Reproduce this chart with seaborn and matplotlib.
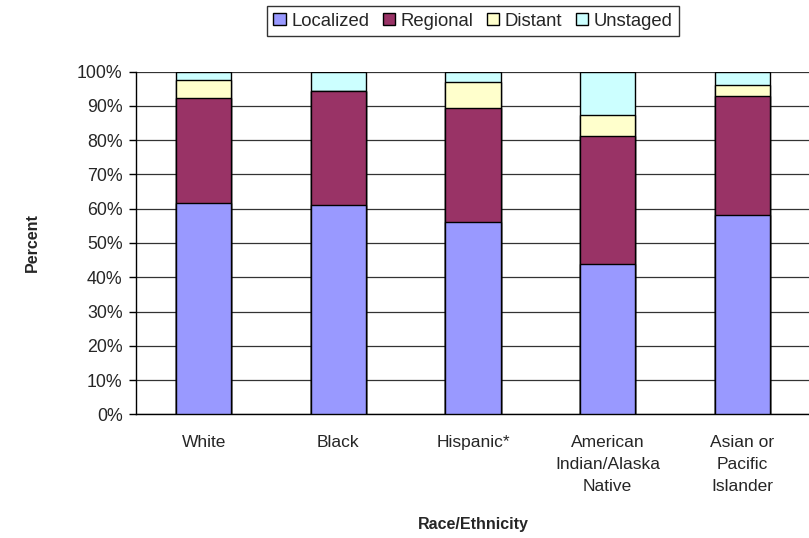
import numpy as np
import pandas as pd
import matplotlib
matplotlib.use("Agg")
import matplotlib.pyplot as plt
from matplotlib.patches import Patch
import seaborn as sns

# valores (percentual por estágio)
categorias = ["White", "Black", "Hispanic*", "American\nIndian/Alaska\nNative", "Asian or\nPacific\nIslander"]
localized = [61.7, 61.2, 56.0, 43.9, 58.3]
regional = [30.5, 33.2, 33.4, 37.3, 34.6]
distant = [5.4, 0.0, 7.5, 6.0, 3.1]
unstaged = [2.4, 5.6, 3.1, 12.8, 4.0]

estagios = ["Localized", "Regional", "Distant", "Unstaged"]
cores = ["#9999FF", "#993366", "#FFFFCC", "#CCFFFF"]

sns.set_style("white")
plt.rcParams['font.family'] = ['Liberation Sans', 'DejaVu Sans']

dados = pd.DataFrame({"categoria": categorias, "Localized": localized,
                      "Regional": regional, "Distant": distant, "Unstaged": unstaged})
acumulado = dados[estagios].cumsum(axis=1)

fig = plt.figure(figsize=(8.09, 5.38), dpi=100)
ax = fig.add_axes([0.1687, 0.2296, 0.832, 0.6375])

# desenha do maior acumulado para o menor, para empilhar
for estagio, cor in reversed(list(zip(estagios, cores))):
    sns.barplot(x=dados["categoria"], y=acumulado[estagio], color=cor, width=0.41,
                edgecolor="black", linewidth=1.0, saturation=1, ax=ax, zorder=3)

ax.set_ylim(0, 100)
ax.set_xlim(-0.5, len(categorias) - 0.5)
ax.set_yticks(np.arange(0, 101, 10))
ax.set_yticklabels([f"{v}%" for v in range(0, 101, 10)], fontsize=12.8)
ax.yaxis.grid(True, color="#333333", linewidth=0.9, zorder=0)
ax.set_axisbelow(True)

ax.set_xticks(range(len(categorias)))
ax.set_xticklabels(categorias, fontsize=12.5, linespacing=1.55)
ax.set_xticks(np.arange(-0.5, len(categorias), 1), minor=True)
ax.tick_params(axis="x", which="major", length=0, pad=15)
ax.tick_params(axis="x", which="minor", length=5, width=1, color="black", direction="out")
ax.tick_params(axis="y", length=5, width=1, color="black", direction="out", left=True, pad=5)

for lado in ["top", "right"]:
    ax.spines[lado].set_visible(False)
for lado in ["left", "bottom"]:
    ax.spines[lado].set_color("black")
    ax.spines[lado].set_linewidth(1.0)

ax.set_xlabel("Race/Ethnicity", fontsize=11.5, weight="bold", labelpad=17)
ax.set_ylabel("Percent", fontsize=11.5, weight="bold", labelpad=27)

alcas = [Patch(facecolor=c, edgecolor="black", label=e) for e, c in zip(estagios, cores)]
leg = fig.legend(handles=alcas, loc="center", bbox_to_anchor=(473 / 809, 1 - 21 / 538), ncol=4,
                 fontsize=13.3, frameon=True, fancybox=False, edgecolor="black",
                 handlelength=0.65, handleheight=0.65, handletextpad=0.3, columnspacing=0.75,
                 borderpad=0.35)
leg.get_frame().set_linewidth(1.0)

fig.savefig("out.png", dpi=100)
